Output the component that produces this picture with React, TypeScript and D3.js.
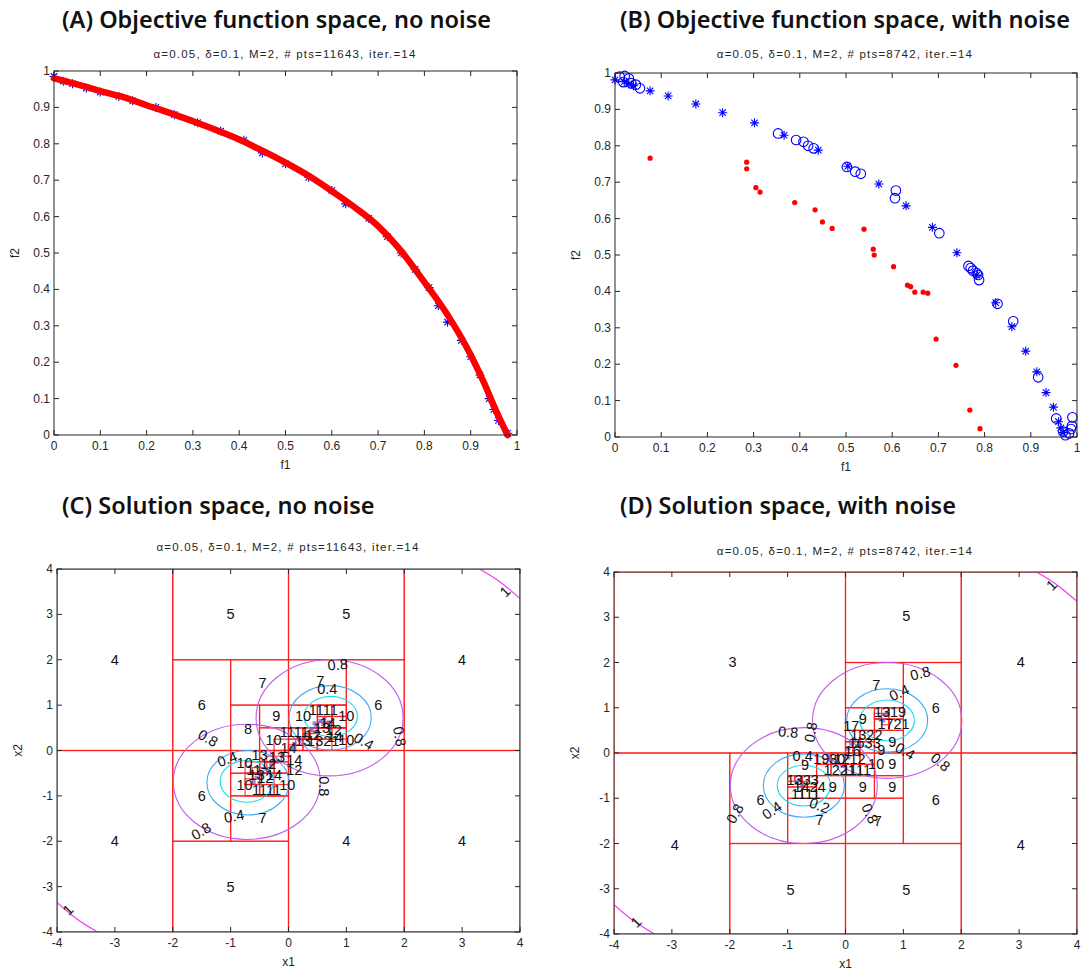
import React from 'react';
import * as d3 from 'd3';

const W = 1086;
const H = 973;

const fTicks = [0, 0.1, 0.2, 0.3, 0.4, 0.5, 0.6, 0.7, 0.8, 0.9, 1];
const sTicks = [-4, -3, -2, -1, 0, 1, 2, 3, 4];

const titles = [
  '(A) Objective function space, no noise',
  '(B) Objective function space, with noise',
  '(C) Solution space, no noise',
  '(D) Solution space, with noise',
];
const subtitles = [
  'α=0.05, δ=0.1, M=2, # pts=11643, iter.=14',
  'α=0.05, δ=0.1, M=2, # pts=8742, iter.=14',
  'α=0.05, δ=0.1, M=2, # pts=11643, iter.=14',
  'α=0.05, δ=0.1, M=2, # pts=8742, iter.=14',
];

// (A) front
const frontA: [number, number][] = [
  [0, 0.98], [0.05, 0.963], [0.1, 0.945], [0.15, 0.928], [0.2, 0.906], [0.25, 0.885],
  [0.3, 0.862], [0.35, 0.838], [0.4, 0.812], [0.45, 0.781], [0.5, 0.748], [0.55, 0.712],
  [0.6, 0.67], [0.65, 0.625], [0.7, 0.574], [0.75, 0.505], [0.8, 0.42], [0.85, 0.33],
  [0.9, 0.22], [0.93, 0.14], [0.95, 0.08], [0.97, 0.025], [0.98, 0.0],
];
const starsA: [number, number][] = [
  [0, 0.985], [0.02, 0.972], [0.04, 0.965], [0.07, 0.953], [0.1, 0.942], [0.14, 0.93],
  [0.17, 0.918], [0.22, 0.9], [0.26, 0.88], [0.31, 0.858], [0.36, 0.835], [0.41, 0.81],
  [0.45, 0.775], [0.5, 0.745], [0.55, 0.708], [0.6, 0.672], [0.63, 0.635], [0.68, 0.595],
  [0.72, 0.545], [0.75, 0.5], [0.78, 0.455], [0.81, 0.405], [0.83, 0.355], [0.85, 0.31],
  [0.88, 0.26], [0.9, 0.215], [0.92, 0.165], [0.94, 0.1], [0.95, 0.07], [0.96, 0.04], [0.98, 0.005],
];

// (B) noisy run
const starsB: [number, number][] = [
  [0, 0.981], [0.02, 0.976], [0.03, 0.97], [0.04, 0.965], [0.076, 0.951], [0.115, 0.937],
  [0.175, 0.915], [0.233, 0.891], [0.302, 0.863], [0.366, 0.829], [0.44, 0.788], [0.504, 0.744],
  [0.571, 0.695], [0.63, 0.635], [0.687, 0.576], [0.74, 0.506], [0.783, 0.445], [0.824, 0.369],
  [0.859, 0.303], [0.889, 0.236], [0.913, 0.179], [0.933, 0.122], [0.949, 0.082], [0.96, 0.042],
  [0.965, 0.025], [0.97, 0.012],
];
const circlesB: [number, number][] = [
  [0.01, 0.99], [0.021, 0.992], [0.018, 0.975], [0.03, 0.985], [0.035, 0.972], [0.045, 0.968],
  [0.054, 0.958], [0.353, 0.834], [0.392, 0.816], [0.408, 0.811], [0.418, 0.8], [0.43, 0.793],
  [0.502, 0.742], [0.52, 0.729], [0.532, 0.723], [0.608, 0.677], [0.606, 0.656], [0.702, 0.56],
  [0.765, 0.47], [0.77, 0.464], [0.775, 0.457], [0.783, 0.45], [0.786, 0.445], [0.788, 0.431],
  [0.828, 0.366], [0.862, 0.318], [0.916, 0.164], [0.955, 0.051], [0.97, 0.015], [0.975, 0.005],
  [0.99, 0.054], [0.989, 0.03], [0.987, 0.022], [0.983, 0.01],
];
const dotsB: [number, number][] = [
  [0.076, 0.766], [0.285, 0.755], [0.285, 0.737], [0.305, 0.685], [0.314, 0.673], [0.389, 0.644],
  [0.433, 0.624], [0.449, 0.591], [0.47, 0.573], [0.539, 0.571], [0.559, 0.516], [0.561, 0.5],
  [0.603, 0.468], [0.633, 0.417], [0.64, 0.413], [0.649, 0.398], [0.667, 0.398], [0.677, 0.395],
  [0.695, 0.269], [0.738, 0.197], [0.768, 0.074], [0.79, 0.023],
];

// (C) subdivision boxes [x0, y0, x1, y1]
const boxesC: number[][] = [
  [-4, -4, -2, 0], [-4, 0, -2, 4], [-2, 2, 0, 4], [0, 2, 2, 4], [2, 0, 4, 4], [2, -4, 4, 0],
  [0, -4, 2, 0], [-2, -4, 0, -2], [-2, 0, -1, 2], [-2, -2, -1, 0], [1, 0, 2, 2], [-1, 1, 0, 2],
  [0, 1, 1, 2], [-1, -2, 0, -1], [-1, 0, -0.5, 1], [-0.5, 0.5, 0, 1], [-0.5, 0, 0, 0.5],
  [0, 0.5, 0.5, 1], [0.5, 0.5, 1, 1], [0, 0, 0.5, 0.5], [0.5, 0, 1, 0.5],
  [-1, -0.5, -0.5, 0], [-1, -1, -0.5, -0.5], [-0.5, -0.5, 0, 0], [-0.5, -1, 0, -0.5],
  [0.5, 0.75, 0.75, 1], [0.75, 0.75, 1, 1], [0.5, 0.5, 0.75, 0.75], [0.75, 0.5, 1, 0.75],
  [0.25, 0.25, 0.5, 0.5], [0.5, 0.25, 0.75, 0.5], [0.75, 0.25, 1, 0.5], [0.5, 0, 0.75, 0.25],
  [0, 0, 0.25, 0.25], [0.25, 0, 0.5, 0.25], [0, 0.25, 0.25, 0.5], [-0.25, 0, 0, 0.25],
  [-0.25, -0.25, 0, 0], [-0.5, -0.25, -0.25, 0], [-0.25, -0.5, 0, -0.25], [-0.5, -0.5, -0.25, -0.25],
  [-0.75, -0.75, -0.5, -0.5], [-0.75, -1, -0.5, -0.75], [-0.5, -0.75, -0.25, -0.5],
  [-0.5, -1, -0.25, -0.75], [-0.25, -1, 0, -0.75], [-0.75, -0.5, -0.5, -0.25],
  [0.5, 0.5, 0.625, 0.625], [0.625, 0.625, 0.75, 0.75], [0.375, 0.375, 0.5, 0.5],
  [0.25, 0.25, 0.375, 0.375], [0.125, 0.125, 0.25, 0.25], [0, 0, 0.125, 0.125],
  [-0.125, -0.125, 0, 0], [-0.25, -0.25, -0.125, -0.125], [-0.375, -0.375, -0.25, -0.25],
  [-0.5, -0.5, -0.375, -0.375], [-0.625, -0.625, -0.5, -0.5], [-0.75, -0.75, -0.625, -0.625],
  [0.625, 0.5, 0.75, 0.625], [0.375, 0.25, 0.5, 0.375], [-0.375, -0.25, -0.25, -0.125],
  [-0.625, -0.5, -0.5, -0.375],
];
const numbersC: [number, number, string][] = [
  [-1, 3, '5'], [1, 3, '5'], [-3, 2, '4'], [3, 2, '4'], [-3, -2, '4'], [1, -2, '4'], [3, -2, '4'],
  [-1, -3, '5'], [-1.5, 1, '6'], [-1.5, -1, '6'], [1.55, 1, '6'], [-0.45, 1.48, '7'],
  [0.55, 1.54, '7'], [-0.45, -1.49, '7'], [-0.7, 0.48, '8'], [-0.21, 0.75, '9'], [0.25, 0.75, '10'],
  [0.6, 0.9, '1111'], [1.0, 0.75, '10'], [-0.26, 0.23, '10'], [0.1, 0.4, '1111'], [1.0, 0.23, '10'],
  [-0.76, -0.28, '10'], [-0.76, -0.76, '10'], [-0.38, -0.87, '1111'], [-0.02, -0.76, '10'],
  [0.1, -0.2, '14'], [0.1, -0.43, '12'], [-0.5, -0.1, '13'], [-0.35, -0.3, '12'], [-0.2, -0.15, '13'],
  [0.0, 0.05, '14'], [0.25, 0.2, '13'], [0.42, 0.35, '12'], [0.58, 0.5, '13'], [0.68, 0.6, '14'],
  [0.78, 0.45, '12'], [0.8, 0.3, '14'], [0.6, 0.2, '1321'], [-0.55, -0.55, '13'], [-0.4, -0.6, '12'],
  [-0.6, -0.42, '11'], [-0.25, -0.55, '14'],
];
const contourLabelsC: [number, number, string, number][] = [
  [0.85, 1.89, '0.8', 5], [0.67, 1.35, '0.4', 0], [1.3, 0.2, '0.4', -30], [1.92, 0.31, '0.8', -80],
  [-1.39, 0.27, '0.8', -30], [-1.06, -0.19, '0.4', 20], [-0.94, -1.45, '0.4', 10],
  [-1.51, -1.78, '0.8', 30], [0.61, -0.79, '0.8', -90], [3.74, 3.5, '1', 45], [-3.81, -3.51, '1', 45],
];
const pointsC: [number, number][] = [
  [0.55, 0.65], [0.62, 0.7], [0.48, 0.55], [0.7, 0.62], [0.4, 0.45], [0.3, 0.35], [0.2, 0.25],
  [0.1, 0.15], [0.05, 0.05], [-0.1, -0.1], [-0.2, -0.25], [-0.3, -0.3], [-0.4, -0.4], [-0.45, -0.5],
  [-0.55, -0.6], [-0.6, -0.7], [-0.5, -0.72], [-0.35, -0.45], [0.45, 0.6], [0.6, 0.58],
];

// (D) subdivision boxes
const boxesD: number[][] = [
  [-4, 0, 0, 4], [0, 2, 2, 4], [2, 0, 4, 4], [-4, -4, -2, 0], [2, -4, 4, 0], [-2, -4, 0, -2],
  [0, -4, 2, -2], [1, 0, 2, 2], [1, -2, 2, 0], [-2, -2, -1, 0], [0, 1, 1, 2], [-1, -2, 0, -1],
  [0, -2, 1, -1], [-1, -0.5, -0.5, 0], [-0.5, -1, 0, -0.5], [0, -1, 0.5, -0.5], [0.5, -1, 1, -0.5],
  [0.5, -0.5, 1, 0], [0.5, 0, 1, 0.5], [0, 0.5, 0.5, 1], [0.5, 0.75, 0.75, 1], [0.75, 0.75, 1, 1],
  [0.5, 0.5, 0.75, 0.75], [0.75, 0.5, 1, 0.75], [0, 0, 0.25, 0.25], [0.25, 0, 0.5, 0.25],
  [0, 0.25, 0.25, 0.5], [0.25, 0.25, 0.5, 0.5], [-1, -1, -0.75, -0.75], [-0.75, -1, -0.5, -0.75],
  [-1, -0.75, -0.75, -0.5], [-0.75, -0.75, -0.5, -0.5], [-0.5, -0.5, -0.25, -0.25],
  [-0.25, -0.5, 0, -0.25], [-0.5, -0.25, -0.25, 0], [-0.25, -0.25, 0, 0], [0, -0.5, 0.25, -0.25],
  [0.25, -0.5, 0.5, -0.25], [0, -0.25, 0.25, 0], [0.25, -0.25, 0.5, 0],
  [0.5, 0.75, 0.625, 0.875], [0.625, 0.875, 0.75, 1], [0.625, 0.625, 0.75, 0.75],
  [0.125, 0.125, 0.25, 0.25], [0, 0.125, 0.125, 0.25], [0, 0, 0.125, 0.125],
  [-0.375, -0.25, -0.25, -0.125], [-0.25, -0.125, -0.125, 0], [-0.875, -0.625, -0.75, -0.5],
  [-1, -0.625, -0.875, -0.5], [-0.75, -0.625, -0.625, -0.5],
];
const numbersD: [number, number, string][] = [
  [-1.95, 2.01, '3'], [1.05, 3.03, '5'], [3.03, 2.01, '4'], [-2.95, -2.04, '4'], [3.03, -2.04, '4'],
  [-0.95, -3.03, '5'], [1.05, -3.03, '5'], [1.56, 1.0, '6'], [1.56, -1.03, '6'], [0.53, 1.5, '7'],
  [-0.45, -1.49, '7'], [0.56, -1.51, '7'], [-1.47, -1.03, '6'], [0.3, 0.76, '9'], [-0.7, -0.27, '9'],
  [0.81, 0.24, '9'], [0.81, -0.25, '9'], [0.3, -0.75, '9'], [0.81, -0.75, '9'], [-0.22, -0.75, '9'],
  [0.53, -0.25, '10'], [0.62, 0.06, '9'], [0.77, 0.91, '1319'], [0.83, 0.63, '1721'],
  [0.36, 0.39, '1322'], [0.33, 0.22, '1633'], [-0.28, -0.13, '1930'], [0.07, -0.14, '1212'],
  [-0.1, -0.38, '1221'], [0.19, -0.38, '1111'], [-0.74, -0.6, '1333'], [-0.62, -0.76, '1424'],
  [-0.69, -0.9, '1111'], [0.1, 0.6, '17'], [0.12, 0.05, '16'],
];
const contourLabelsD: [number, number, string, number][] = [
  [1.29, 1.76, '0.8', 15], [0.93, 1.33, '0.4', 25], [1.03, 0.04, '0.4', -30], [1.64, -0.2, '0.8', -40],
  [-0.99, 0.46, '0.8', -5], [-0.6, 0.46, '0.8', 80], [-0.74, -0.07, '0.4', 0], [-1.27, -1.27, '0.4', 35],
  [-0.45, -1.16, '0.2', -20], [-1.91, -1.34, '0.8', 60], [0.42, -1.34, '0.8', -65],
  [3.56, 3.71, '1', 45], [-3.62, -3.74, '1', 45],
];
const pointsD: [number, number][] = [
  [0.6, 0.8], [0.65, 0.72], [0.7, 0.85], [0.1, 0.2], [0.05, 0.1], [0.15, 0.3], [-0.3, -0.05],
  [-0.25, -0.15], [-0.8, -0.6], [-0.75, -0.7], [-0.85, -0.65], [0.05, -0.1], [0.2, 0.15],
];

// contour rings: centre x, centre y, radius x, radius y, level
const ringsC: [number, number, number, number, number][] = [
  [0.71, 0.72, 1.27, 1.28, 0.8], [0.72, 0.72, 0.71, 0.71, 0.4], [0.73, 0.75, 0.46, 0.44, 0.2],
  [-0.72, -0.69, 1.27, 1.27, 0.8], [-0.7, -0.71, 0.71, 0.71, 0.4], [-0.72, -0.68, 0.46, 0.46, 0.2],
];
const ringsD: [number, number, number, number, number][] = [
  [0.72, 0.72, 1.29, 1.28, 0.8], [0.72, 0.72, 0.7, 0.7, 0.4], [0.72, 0.72, 0.47, 0.45, 0.2],
  [-0.72, -0.72, 1.27, 1.28, 0.8], [-0.72, -0.72, 0.7, 0.7, 0.4], [-0.72, -0.72, 0.46, 0.45, 0.2],
];
const cornerTop: [number, number][] = [[3.3, 4], [3.65, 3.72], [4, 3.35]];
const cornerBottom: [number, number][] = [[-4, -3.35], [-3.65, -3.72], [-3.3, -4]];

const ringColor: Record<string, string> = { '0.8': '#c05cf0', '0.4': '#3fa9f5', '0.2': '#10dcef' };

const tickFont = '"Liberation Sans", Arial, sans-serif';

function Frame({ x, y, xt, yt, xlab, ylab }: any) {
  const [x0, x1] = x.range();
  const [y0, y1] = y.range();
  const c = '#262626';
  return (
    <g fontFamily={tickFont} fontSize={12} fill="#262626">
      <rect x={x0} y={y1} width={x1 - x0} height={y0 - y1} fill="none" stroke={c} strokeWidth={1} />
      {xt.map((t: number) => (
        <g key={'x' + t}>
          <line x1={x(t)} x2={x(t)} y1={y0} y2={y0 - 5} stroke={c} />
          <line x1={x(t)} x2={x(t)} y1={y1} y2={y1 + 5} stroke={c} />
          <text x={x(t)} y={y0 + 15} textAnchor="middle">{String(t)}</text>
        </g>
      ))}
      {yt.map((t: number) => (
        <g key={'y' + t}>
          <line x1={x0} x2={x0 + 5} y1={y(t)} y2={y(t)} stroke={c} />
          <line x1={x1} x2={x1 - 5} y1={y(t)} y2={y(t)} stroke={c} />
          <text x={x0 - 4} y={y(t) + 4} textAnchor="end">{String(t)}</text>
        </g>
      ))}
      <text x={(x0 + x1) / 2} y={y0 + 34} textAnchor="middle">{xlab}</text>
      <text transform={`translate(${x0 - 35},${(y0 + y1) / 2}) rotate(-90)`} textAnchor="middle">{ylab}</text>
    </g>
  );
}

function Star({ cx, cy }: { cx: number; cy: number }) {
  return (
    <path
      transform={`translate(${cx},${cy})`}
      d="M-4.5,0H4.5M0,-4.5V4.5M-3.2,-3.2L3.2,3.2M-3.2,3.2L3.2,-3.2"
      stroke="#0000ff"
      strokeWidth={1.1}
      fill="none"
    />
  );
}

function Heading({ i, x, y, sx, sy }: any) {
  return (
    <g>
      <text x={x} y={y} fontFamily='"Noto Sans", "Open Sans", sans-serif' fontWeight={600} fontSize={23.5} fill="#111">
        {titles[i]}
      </text>
      <text x={sx} y={sy} textAnchor="middle" fontFamily={tickFont} fontSize={11.5} letterSpacing={1.2} fill="#262626">
        {subtitles[i]}
      </text>
    </g>
  );
}

function PanelA() {
  const x = d3.scaleLinear().domain([0, 1]).range([54, 517]);
  const y = d3.scaleLinear().domain([0, 1]).range([435, 71]);
  const line = d3.line<[number, number]>().x(d => x(d[0])).y(d => y(d[1])).curve(d3.curveMonotoneX);
  return (
    <g>
      <Heading i={0} x={62} y={28} sx={285} sy={58} />
      {starsA.map((p, i) => <Star key={i} cx={x(p[0])} cy={y(p[1])} />)}
      <path d={line(frontA) || ''} fill="none" stroke="#ff0000" strokeWidth={6.5} strokeLinecap="round" />
      <Frame x={x} y={y} xt={fTicks} yt={fTicks} xlab="f1" ylab="f2" />
    </g>
  );
}

function PanelB() {
  const x = d3.scaleLinear().domain([0, 1]).range([615, 1077]);
  const y = d3.scaleLinear().domain([0, 1]).range([437, 73]);
  return (
    <g>
      <Heading i={1} x={620} y={28} sx={845} sy={58} />
      {circlesB.map((p, i) => (
        <circle key={'c' + i} cx={x(p[0])} cy={y(p[1])} r={4.8} fill="none" stroke="#0000ff" strokeWidth={1.1} />
      ))}
      {starsB.map((p, i) => <Star key={'s' + i} cx={x(p[0])} cy={y(p[1])} />)}
      {dotsB.map((p, i) => (
        <circle key={'d' + i} cx={x(p[0])} cy={y(p[1])} r={2.6} fill="#ff0000" />
      ))}
      <Frame x={x} y={y} xt={fTicks} yt={fTicks} xlab="f1" ylab="f2" />
    </g>
  );
}

function SolutionPanel({ i, range, yr, boxes, numbers, clabels, rings, points, head }: any) {
  const x = d3.scaleLinear().domain([-4, 4]).range(range);
  const y = d3.scaleLinear().domain([-4, 4]).range(yr);
  const line = d3.line<[number, number]>().x(d => x(d[0])).y(d => y(d[1])).curve(d3.curveNatural);
  const clipId = 'clip' + i;
  return (
    <g>
      <Heading i={i} {...head} />
      <defs>
        <clipPath id={clipId}>
          <rect x={range[0]} y={yr[1]} width={range[1] - range[0]} height={yr[0] - yr[1]} />
        </clipPath>
      </defs>
      <g clipPath={`url(#${clipId})`}>
        {boxes.map((b: number[], k: number) => (
          <rect
            key={'b' + k}
            x={x(b[0])}
            y={y(b[3])}
            width={x(b[2]) - x(b[0])}
            height={y(b[1]) - y(b[3])}
            fill="none"
            stroke="#ff1a1a"
            strokeOpacity={0.85}
            strokeWidth={1.2}
          />
        ))}
        {rings.map((r: number[], k: number) => (
          <ellipse
            key={'r' + k}
            cx={x(r[0])}
            cy={y(r[1])}
            rx={x(r[0] + r[2]) - x(r[0])}
            ry={y(r[1]) - y(r[1] + r[3])}
            fill="none"
            stroke={ringColor[String(r[4])]}
            strokeWidth={1.1}
          />
        ))}
        <path d={line(cornerTop) || ''} fill="none" stroke="#f03cf0" strokeWidth={1.2} />
        <path d={line(cornerBottom) || ''} fill="none" stroke="#f03cf0" strokeWidth={1.2} />
        {points.map((p: number[], k: number) => (
          <rect key={'p' + k} x={x(p[0]) - 2} y={y(p[1]) - 2} width={4} height={4} fill="#6a5acd" fillOpacity={0.7} />
        ))}
        <g fontFamily={tickFont} fontSize={14.5} fill="#111" textAnchor="middle">
          {numbers.map((n: any, k: number) => (
            <text key={'n' + k} x={x(n[0])} y={y(n[1]) + 5}>{n[2]}</text>
          ))}
          {clabels.map((n: any, k: number) => (
            <text key={'l' + k} transform={`translate(${x(n[0])},${y(n[1])}) rotate(${-n[3]})`} y={5} fill="#111">
              {n[2]}
            </text>
          ))}
        </g>
      </g>
      <Frame x={x} y={y} xt={sTicks} yt={sTicks} xlab="x1" ylab="x2" />
    </g>
  );
}

export default function App() {
  return (
    <svg width={W} height={H} style={{ position: 'absolute', left: 0, top: 0, background: '#fff' }}>
      <rect width={W} height={H} fill="#fff" />
      <PanelA />
      <PanelB />
      <SolutionPanel
        i={2}
        range={[57, 520]}
        yr={[932, 569]}
        boxes={boxesC}
        numbers={numbersC}
        clabels={contourLabelsC}
        rings={ringsC}
        points={pointsC}
        head={{ x: 62, y: 514, sx: 288, sy: 551 }}
      />
      <SolutionPanel
        i={3}
        range={[614, 1077]}
        yr={[934, 572]}
        boxes={boxesD}
        numbers={numbersD}
        clabels={contourLabelsD}
        rings={ringsD}
        points={pointsD}
        head={{ x: 620, y: 514, sx: 845, sy: 555 }}
      />
    </svg>
  );
}
